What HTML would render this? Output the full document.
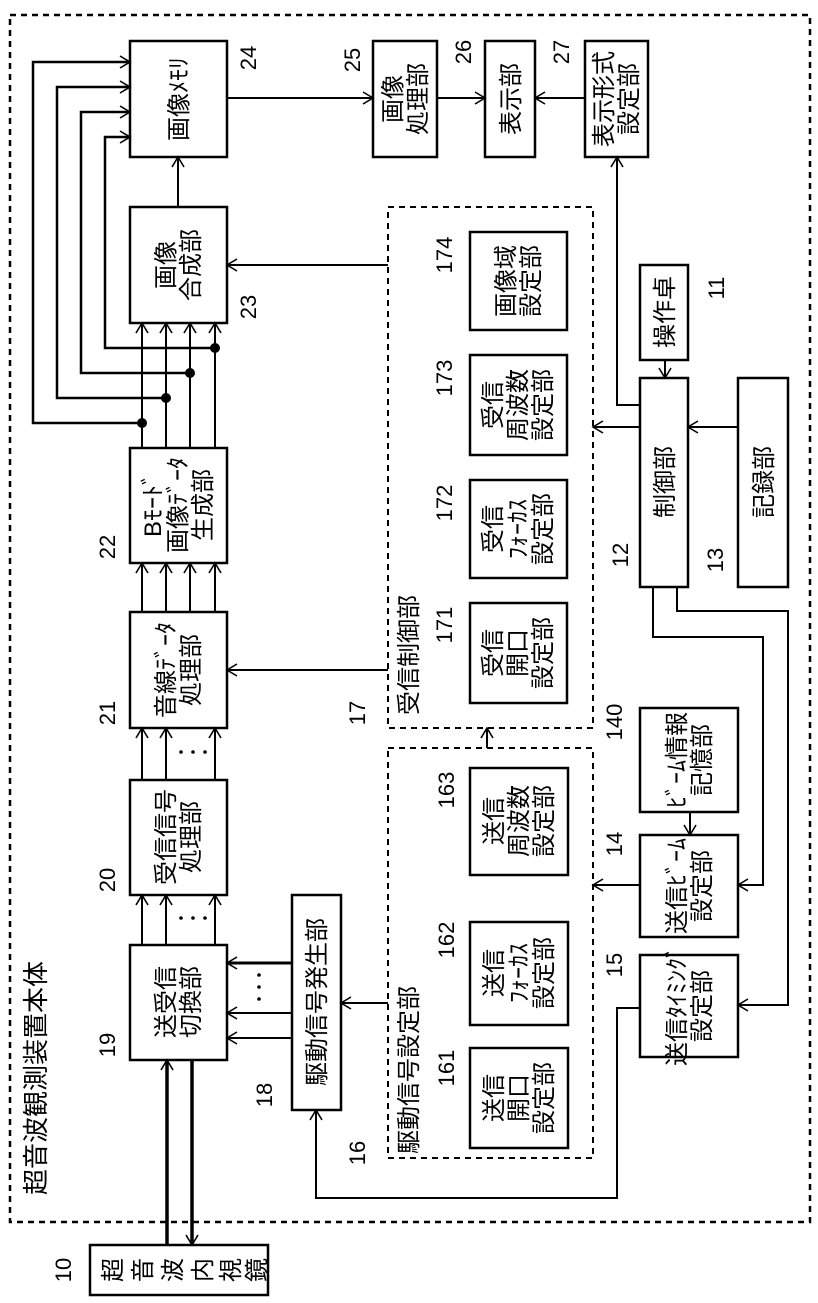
<!DOCTYPE html>
<html><head><meta charset="utf-8"><style>
html,body{margin:0;padding:0;background:#fff;}
svg{display:block;}
text{font-family:"Liberation Sans","Noto Sans CJK JP",sans-serif;fill:#000;}
</style></head><body>
<svg width="818" height="1303" viewBox="0 0 818 1303" xmlns="http://www.w3.org/2000/svg">
<defs>
<marker id="a" markerWidth="14" markerHeight="14" refX="12" refY="7" orient="auto" markerUnits="userSpaceOnUse">
<polyline points="2,1 12,7 2,13" fill="none" stroke="#000" stroke-width="1.6"/>
</marker>
</defs>
<g fill="none" stroke="#000" stroke-width="2.5" stroke-dasharray="6,5">
<rect x="10" y="15" width="800" height="1207"/>
<rect x="388" y="207" width="205" height="521" stroke-width="2"/>
<rect x="388" y="748" width="205" height="410" stroke-width="2"/>
</g>
<g fill="#fff" stroke="#000" stroke-width="2.5">
<rect x="130" y="41" width="97" height="116"/>
<rect x="373" y="41" width="64" height="116"/>
<rect x="485" y="41" width="50" height="116"/>
<rect x="585" y="41" width="63" height="116"/>
<rect x="130" y="207" width="97" height="116"/>
<rect x="130" y="448" width="97" height="115"/>
<rect x="130" y="612" width="97" height="116"/>
<rect x="130" y="780" width="97" height="115"/>
<rect x="130" y="945" width="97" height="115"/>
<rect x="292" y="895" width="49" height="215"/>
<rect x="90" y="1245" width="178" height="50"/>
<rect x="470" y="232" width="97" height="98"/>
<rect x="470" y="355" width="97" height="100"/>
<rect x="470" y="480" width="97" height="98"/>
<rect x="470" y="603" width="97" height="100"/>
<rect x="470" y="768" width="98" height="107"/>
<rect x="470" y="922" width="98" height="103"/>
<rect x="470" y="1048" width="98" height="100"/>
<rect x="640" y="265" width="48" height="95"/>
<rect x="640" y="378" width="48" height="209"/>
<rect x="738" y="378" width="50" height="209"/>
<rect x="640" y="708" width="98" height="104"/>
<rect x="640" y="835" width="98" height="102"/>
<rect x="640" y="955" width="98" height="102"/>
</g>
<g fill="none" stroke="#000" stroke-width="2">
<line x1="227" y1="98" x2="373" y2="98" marker-end="url(#a)"/>
<line x1="437" y1="98" x2="485" y2="98" marker-end="url(#a)"/>
<line x1="585" y1="98" x2="535" y2="98" marker-end="url(#a)"/>
<line x1="178" y1="207" x2="178" y2="157" marker-end="url(#a)"/>
<line x1="388" y1="265" x2="227" y2="265" marker-end="url(#a)"/>
<line x1="388" y1="670" x2="227" y2="670" marker-end="url(#a)"/>
<polyline points="640,405 617,405 617,157" marker-end="url(#a)"/>
<line x1="665" y1="360" x2="665" y2="378" marker-end="url(#a)"/>
<line x1="738" y1="427" x2="688" y2="427" marker-end="url(#a)"/>
<line x1="640" y1="427" x2="593" y2="427" marker-end="url(#a)"/>
<polyline points="653,587 653,637 763,637 763,885 738,885" marker-end="url(#a)"/>
<polyline points="677,587 677,611 788,611 788,1005 738,1005" marker-end="url(#a)"/>
<line x1="690" y1="812" x2="690" y2="835" marker-end="url(#a)"/>
<line x1="640" y1="885" x2="593" y2="885" marker-end="url(#a)"/>
<polyline points="640,1008 617,1008 617,1198 316,1198 316,1110" marker-end="url(#a)"/>
<line x1="487" y1="748" x2="487" y2="728" marker-end="url(#a)"/>
<line x1="388" y1="1003" x2="341" y2="1003" marker-end="url(#a)"/>
<line x1="292" y1="963" x2="227" y2="963" marker-end="url(#a)" stroke-width="3"/>
<line x1="292" y1="1013" x2="227" y2="1013" marker-end="url(#a)"/>
<line x1="292" y1="1038" x2="227" y2="1038" marker-end="url(#a)"/>
<line x1="167" y1="1245" x2="167" y2="1060" marker-end="url(#a)" stroke-width="3.5"/>
<line x1="192" y1="1060" x2="192" y2="1245" marker-end="url(#a)" stroke-width="3.5"/>
<line x1="142" y1="945" x2="142" y2="895" marker-end="url(#a)"/>
<line x1="166" y1="945" x2="166" y2="895" marker-end="url(#a)"/>
<line x1="215" y1="945" x2="215" y2="895" marker-end="url(#a)"/>
<line x1="142" y1="780" x2="142" y2="728" marker-end="url(#a)"/>
<line x1="166" y1="780" x2="166" y2="728" marker-end="url(#a)"/>
<line x1="215" y1="780" x2="215" y2="728" marker-end="url(#a)"/>
<line x1="142" y1="612" x2="142" y2="563" marker-end="url(#a)"/>
<line x1="166" y1="612" x2="166" y2="563" marker-end="url(#a)"/>
<line x1="190" y1="612" x2="190" y2="563" marker-end="url(#a)"/>
<line x1="215" y1="612" x2="215" y2="563" marker-end="url(#a)"/>
<line x1="142" y1="448" x2="142" y2="323" marker-end="url(#a)"/>
<line x1="166" y1="448" x2="166" y2="323" marker-end="url(#a)"/>
<line x1="190" y1="448" x2="190" y2="323" marker-end="url(#a)"/>
<line x1="215" y1="448" x2="215" y2="323" marker-end="url(#a)"/>
<polyline points="142,423 33,423 33,62 130,62" marker-end="url(#a)" stroke-width="2.5"/>
<polyline points="166,398 57,398 57,87 130,87" marker-end="url(#a)" stroke-width="2.5"/>
<polyline points="190,373 81,373 81,112 130,112" marker-end="url(#a)" stroke-width="2.5"/>
<polyline points="215,348 105,348 105,137 130,137" marker-end="url(#a)" stroke-width="2.5"/>
</g>
<g fill="#000">
<circle cx="142" cy="423" r="5"/><circle cx="166" cy="398" r="5"/>
<circle cx="190" cy="373" r="5"/><circle cx="215" cy="348" r="5"/>
<circle cx="181" cy="918" r="1.8"/><circle cx="193" cy="918" r="1.8"/><circle cx="205" cy="918" r="1.8"/>
<circle cx="181" cy="752" r="1.8"/><circle cx="193" cy="752" r="1.8"/><circle cx="205" cy="752" r="1.8"/>
<circle cx="259" cy="975" r="1.8"/><circle cx="259" cy="987" r="1.8"/><circle cx="259" cy="999" r="1.8"/>
</g>
<g font-size="24" text-anchor="middle">
<text transform="translate(178,99) rotate(-90)" y="9">画像ﾒﾓﾘ</text>
<text transform="translate(405,99) rotate(-90)"><tspan x="0" y="-4">画像</tspan><tspan x="0" y="21">処理部</tspan></text>
<text transform="translate(510,99) rotate(-90)" y="9">表示部</text>
<text transform="translate(616,99) rotate(-90)"><tspan x="0" y="-4">表示形式</tspan><tspan x="0" y="21">設定部</tspan></text>
<text transform="translate(178,265) rotate(-90)"><tspan x="0" y="-4">画像</tspan><tspan x="0" y="21">合成部</tspan></text>
<text transform="translate(178,505) rotate(-90)"><tspan x="0" y="-17">Bﾓｰﾄﾞ</tspan><tspan x="0" y="8">画像ﾃﾞｰﾀ</tspan><tspan x="0" y="33">生成部</tspan></text>
<text transform="translate(178,670) rotate(-90)"><tspan x="0" y="-4">音線ﾃﾞｰﾀ</tspan><tspan x="0" y="21">処理部</tspan></text>
<text transform="translate(178,837) rotate(-90)"><tspan x="0" y="-4">受信信号</tspan><tspan x="0" y="21">処理部</tspan></text>
<text transform="translate(178,1002) rotate(-90)"><tspan x="0" y="-4">送受信</tspan><tspan x="0" y="21">切換部</tspan></text>
<text transform="translate(316,1002) rotate(-90)" y="9">駆動信号発生部</text>
<text transform="translate(518,281) rotate(-90)"><tspan x="0" y="-4">画像域</tspan><tspan x="0" y="21">設定部</tspan></text>
<text transform="translate(518,405) rotate(-90)"><tspan x="0" y="-17">受信</tspan><tspan x="0" y="8">周波数</tspan><tspan x="0" y="33">設定部</tspan></text>
<text transform="translate(518,529) rotate(-90)"><tspan x="0" y="-17">受信</tspan><tspan x="0" y="8">ﾌｫｰｶｽ</tspan><tspan x="0" y="33">設定部</tspan></text>
<text transform="translate(518,653) rotate(-90)"><tspan x="0" y="-17">受信</tspan><tspan x="0" y="8">開口</tspan><tspan x="0" y="33">設定部</tspan></text>
<text transform="translate(519,821) rotate(-90)"><tspan x="0" y="-17">送信</tspan><tspan x="0" y="8">周波数</tspan><tspan x="0" y="33">設定部</tspan></text>
<text transform="translate(519,973) rotate(-90)"><tspan x="0" y="-17">送信</tspan><tspan x="0" y="8">ﾌｫｰｶｽ</tspan><tspan x="0" y="33">設定部</tspan></text>
<text transform="translate(519,1098) rotate(-90)"><tspan x="0" y="-17">送信</tspan><tspan x="0" y="8">開口</tspan><tspan x="0" y="33">設定部</tspan></text>
<text transform="translate(664,312) rotate(-90)" y="9">操作卓</text>
<text transform="translate(664,482) rotate(-90)" y="9">制御部</text>
<text transform="translate(763,482) rotate(-90)" y="9">記録部</text>
<text transform="translate(689,760) rotate(-90)"><tspan x="0" y="-4">ﾋﾞｰﾑ情報</tspan><tspan x="0" y="21">記憶部</tspan></text>
<text transform="translate(689,886) rotate(-90)"><tspan x="0" y="-4">送信ﾋﾞｰﾑ</tspan><tspan x="0" y="21">設定部</tspan></text>
<text transform="translate(689,1006) rotate(-90)"><tspan x="0" y="-4">送信ﾀｲﾐﾝｸﾞ</tspan><tspan x="0" y="21">設定部</tspan></text>
<text transform="translate(408,655) rotate(-90)" y="9">受信制御部</text>
<text transform="translate(408,1070) rotate(-90)" y="9">駆動信号設定部</text>
<text transform="translate(36,1078) rotate(-90)" y="9" font-size="26">超音波観測装置本体</text>
<text transform="translate(112,1270) rotate(-90)" y="9">超</text>
<text transform="translate(142,1270) rotate(-90)" y="9">音</text>
<text transform="translate(172,1270) rotate(-90)" y="9">波</text>
<text transform="translate(202,1270) rotate(-90)" y="9">内</text>
<text transform="translate(230,1270) rotate(-90)" y="9">視</text>
<text transform="translate(256,1270) rotate(-90)" y="9">鏡</text>
</g>
<g font-size="22" text-anchor="middle">
<text transform="translate(248,58) rotate(-90)" y="8">24</text>
<text transform="translate(352,60) rotate(-90)" y="8">25</text>
<text transform="translate(463,52) rotate(-90)" y="8">26</text>
<text transform="translate(561,52) rotate(-90)" y="8">27</text>
<text transform="translate(248,307) rotate(-90)" y="8">23</text>
<text transform="translate(107,547) rotate(-90)" y="8">22</text>
<text transform="translate(107,713) rotate(-90)" y="8">21</text>
<text transform="translate(107,880) rotate(-90)" y="8">20</text>
<text transform="translate(107,1045) rotate(-90)" y="8">19</text>
<text transform="translate(264,1095) rotate(-90)" y="8">18</text>
<text transform="translate(357,1153) rotate(-90)" y="8">16</text>
<text transform="translate(357,713) rotate(-90)" y="8">17</text>
<text transform="translate(63,1270) rotate(-90)" y="8">10</text>
<text transform="translate(444,255) rotate(-90)" y="8">174</text>
<text transform="translate(444,378) rotate(-90)" y="8">173</text>
<text transform="translate(444,503) rotate(-90)" y="8">172</text>
<text transform="translate(444,625) rotate(-90)" y="8">171</text>
<text transform="translate(446,790) rotate(-90)" y="8">163</text>
<text transform="translate(446,940) rotate(-90)" y="8">162</text>
<text transform="translate(446,1068) rotate(-90)" y="8">161</text>
<text transform="translate(716,288) rotate(-90)" y="8">11</text>
<text transform="translate(620,555) rotate(-90)" y="8">12</text>
<text transform="translate(715,560) rotate(-90)" y="8">13</text>
<text transform="translate(614,722) rotate(-90)" y="8">140</text>
<text transform="translate(614,844) rotate(-90)" y="8">14</text>
<text transform="translate(614,965) rotate(-90)" y="8">15</text>
</g>
</svg>
</body></html>
